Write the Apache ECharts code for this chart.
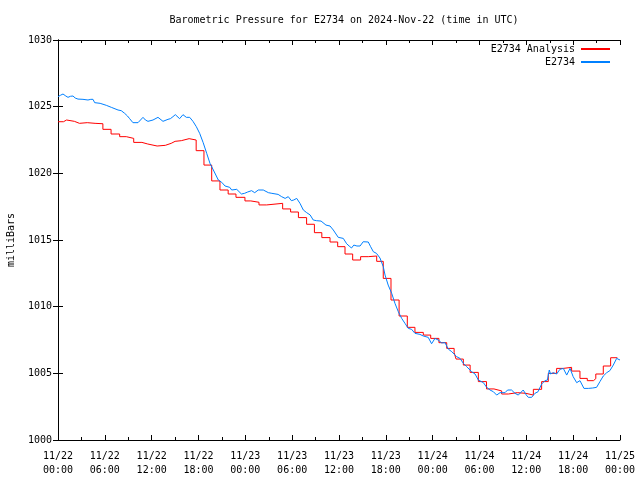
<!DOCTYPE html>
<html>
<head>
<meta charset="utf-8">
<script src="https://cdn.jsdelivr.net/npm/echarts@6/dist/echarts.min.js"></script>
<style>html,body{margin:0;padding:0;background:#fff}#c{width:640px;height:480px}</style>
</head>
<body>
<div id="c"></div>
<script>
// Hours since 2024-11-22 00:00 UTC
var xTickLabels = ['11/22\n00:00','11/22\n06:00','11/22\n12:00','11/22\n18:00','11/23\n00:00','11/23\n06:00','11/23\n12:00','11/23\n18:00','11/24\n00:00','11/24\n06:00','11/24\n12:00','11/24\n18:00','11/25\n00:00'];

var redTimes = [0,0.7,1.1,2.1,2.75,3.75,4.75,5.75,6.8,7.9,8.75,9.7,10.75,11.5,12.7,13.75,14.5,15.0,15.8,16.8,17.7,18.7,19.69,20.75,21.8,22.8,23.95,24.7,25.75,26.73,28.78,29.8,30.8,31.85,32.85,33.8,34.85,35.83,36.77,37.75,38.77,39.75,40.83,41.67,42.66,43.7,44.75,45.73,46.8,47.75,48.8,49.8,50.75,51.0,51.93,52.8,53.85,54.9,55.85,56.84,57.7,58.84,59.95,60.9,61.96,62.81,63.88,64.74,65.8,66.87,67.81,68.6,68.9,69.86,70.8,71.66];
var redValues = [1023.87,1024.0,1023.9,1023.75,1023.8,1023.75,1023.72,1023.3,1022.95,1022.75,1022.62,1022.32,1022.2,1022.05,1022.1,1022.25,1022.4,1022.45,1022.6,1022.5,1021.7,1020.62,1019.43,1018.75,1018.45,1018.2,1017.93,1017.83,1017.63,1017.75,1017.33,1017.1,1016.68,1016.18,1015.55,1015.18,1014.85,1014.5,1013.95,1013.5,1013.75,1013.8,1013.4,1012.12,1010.5,1009.3,1008.45,1008.07,1007.87,1007.62,1007.3,1006.87,1006.55,1006.07,1005.62,1005.07,1004.38,1003.83,1003.68,1003.45,1003.55,1003.5,1003.37,1003.8,1004.38,1005.0,1005.37,1005.45,1005.17,1004.62,1004.45,1004.6,1004.95,1005.55,1006.17,1006.17];

var blueTimes = [0,0.3,0.64,1.0,1.28,1.6,1.92,2.2,2.56,3.2,3.84,4.2,4.48,4.7,5.4,6.19,6.83,7.69,8.1,8.54,8.9,9.18,9.6,10.25,10.89,11.2,11.53,12.17,12.4,12.81,13.45,13.7,14.09,14.4,14.73,15.03,15.58,16.01,16.44,16.87,17.29,17.72,18.15,18.6,19.05,19.47,19.9,20.54,20.97,21.4,22.0,22.25,22.9,23.5,23.9,24.3,24.8,25.2,25.66,26.3,26.95,27.4,28.2,28.65,29.1,29.5,29.9,30.2,30.58,31.0,31.43,31.86,32.3,32.7,33.1,33.3,33.7,33.9,34.33,34.85,35.27,35.5,35.9,36.55,36.98,37.3,37.6,37.9,38.3,38.7,39.1,39.75,40.05,40.4,40.8,41.25,41.67,41.9,42.3,42.75,43.17,43.6,44.03,44.45,44.88,45.3,45.73,46.37,46.8,47.43,47.86,48.3,48.7,49.15,49.58,50.0,50.45,51.07,51.5,51.93,52.36,53.0,53.43,53.85,54.5,54.92,55.35,55.78,56.2,56.63,57.27,57.6,58.1,58.55,58.97,59.6,60.0,60.25,60.68,61.1,61.5,61.96,62.4,62.7,62.94,63.1,63.45,63.88,64.3,64.74,65.17,65.6,66.0,66.45,66.87,67.38,67.94,68.5,69.0,69.43,69.86,70.3,70.7,71.14,71.57,72.0];
var blueValues = [1025.75,1025.85,1025.95,1025.8,1025.7,1025.78,1025.8,1025.65,1025.57,1025.55,1025.5,1025.55,1025.55,1025.3,1025.25,1025.1,1024.95,1024.75,1024.7,1024.5,1024.3,1024.1,1023.8,1023.8,1024.2,1024.0,1023.9,1024.0,1023.85,1024.2,1023.9,1023.95,1024.05,1024.1,1024.25,1024.4,1024.1,1024.4,1024.2,1024.2,1023.9,1023.5,1023.0,1022.3,1021.5,1020.75,1020.25,1019.5,1019.33,1019.05,1018.95,1018.75,1018.8,1018.45,1018.5,1018.6,1018.7,1018.55,1018.75,1018.75,1018.55,1018.5,1018.42,1018.25,1018.12,1018.25,1017.95,1018.0,1018.12,1017.75,1017.25,1017.05,1016.88,1016.5,1016.45,1016.6,1016.42,1016.55,1016.12,1016.05,1015.75,1015.63,1015.2,1015.12,1014.72,1014.55,1014.4,1014.62,1014.55,1014.55,1014.87,1014.85,1014.5,1014.12,1014.0,1013.65,1013.0,1012.37,1011.62,1011.0,1010.25,1009.62,1009.12,1008.75,1008.37,1008.3,1008.0,1007.92,1007.8,1007.7,1007.22,1007.62,1007.5,1007.28,1007.3,1006.82,1006.62,1006.25,1006.12,1005.75,1005.5,1005.12,1004.95,1004.5,1004.3,1003.95,1003.75,1003.62,1003.37,1003.55,1003.55,1003.75,1003.75,1003.5,1003.37,1003.75,1003.37,1003.2,1003.2,1003.5,1003.62,1004.2,1004.45,1004.5,1005.25,1004.95,1005.05,1004.95,1005.3,1005.37,1004.87,1005.37,1004.75,1004.3,1004.45,1003.87,1003.87,1003.9,1003.95,1004.38,1004.8,1005.05,1005.2,1005.62,1006.12,1006.0];

function zip(a, b) { return a.map(function (t, i) { return [t, b[i]]; }); }

var FONT = 'DejaVu Sans Mono';
var chart = echarts.init(document.getElementById('c'), null, { renderer: 'canvas' });
var axisCommon = {
  axisLine: { show: true, lineStyle: { color: '#000', width: 1 } },
  splitLine: { show: false }
};
chart.setOption({
  animation: false,
  backgroundColor: '#fff',
  title: {
    text: 'Barometric Pressure for E2734 on 2024-Nov-22 (time in UTC)',
    left: 339, top: 10, textAlign: 'center',
    textStyle: { fontFamily: FONT, fontSize: 10, fontWeight: 'normal', color: '#000' }
  },
  legend: {
    orient: 'vertical', right: 25, top: 39, align: 'right',
    itemWidth: 29, itemHeight: 2, itemGap: 3,
    textStyle: { fontFamily: FONT, fontSize: 10, color: '#000', padding: [0, 1, 0, 0] },
    data: [{ name: 'E2734 Analysis', icon: 'rect' }, { name: 'E2734', icon: 'rect' }]
  },
  grid: { left: 58, right: 20, top: 40, bottom: 40, containLabel: false, outerBoundsMode: 'none' },
  xAxis: [
    Object.assign({}, axisCommon, {
      type: 'value', min: 0, max: 72, interval: 6, position: 'bottom',
      axisTick: { show: true, inside: true, length: 5, lineStyle: { color: '#000' } },
      minorTick: { show: true, splitNumber: 2, length: 3, lineStyle: { color: '#000' } },
      axisLabel: {
        fontFamily: FONT, fontSize: 10, color: '#000', margin: 9, lineHeight: 14,
        hideOverlap: false,
        formatter: function (v) { return xTickLabels[Math.round(v / 6)]; }
      }
    }),
    Object.assign({}, axisCommon, {
      type: 'value', min: 0, max: 72, interval: 6, position: 'top',
      axisTick: { show: true, inside: true, length: 5, lineStyle: { color: '#000' } },
      minorTick: { show: true, splitNumber: 2, length: 3, lineStyle: { color: '#000' } },
      axisLabel: { show: false }
    })
  ],
  yAxis: [
    Object.assign({}, axisCommon, {
      type: 'value', min: 1000, max: 1030, interval: 5, position: 'left',
      name: 'milliBars', nameLocation: 'middle', nameGap: 42, nameRotate: 90,
      nameTextStyle: { fontFamily: FONT, fontSize: 10, color: '#000' },
      axisTick: { show: true, inside: true, length: 5, lineStyle: { color: '#000' } },
      axisLabel: { fontFamily: FONT, fontSize: 10, color: '#000', margin: 6,
        formatter: function (v) { return String(v); } }
    }),
    Object.assign({}, axisCommon, {
      type: 'value', min: 1000, max: 1030, interval: 5, position: 'right',
      axisTick: { show: true, inside: true, length: 5, lineStyle: { color: '#000' } },
      axisLabel: { show: false }
    })
  ],
  series: [
    {
      name: 'E2734 Analysis', type: 'line', step: 'end', showSymbol: false, symbol: 'none',
      xAxisIndex: 0, yAxisIndex: 0,
      itemStyle: { color: '#ff0000' }, lineStyle: { color: '#ff0000', width: 1 },
      data: zip(redTimes, redValues)
    },
    {
      name: 'E2734', type: 'line', showSymbol: false, symbol: 'none',
      xAxisIndex: 0, yAxisIndex: 0,
      itemStyle: { color: '#0080ff' }, lineStyle: { color: '#0080ff', width: 1 },
      data: zip(blueTimes, blueValues)
    }
  ]
});
</script>
</body>
</html>
